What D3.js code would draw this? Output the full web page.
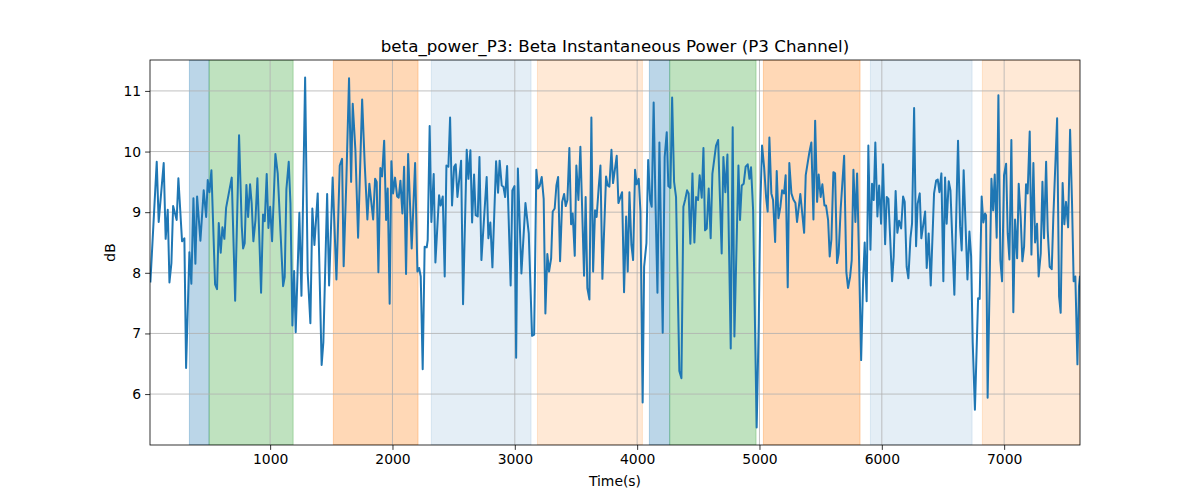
<!DOCTYPE html>
<html>
<head>
<meta charset="utf-8">
<script src="https://cdn.jsdelivr.net/npm/d3@7"></script>
<style>
  body { margin: 0; background: #fff; }
  svg { display: block; font-family: "DejaVu Sans", sans-serif; }
</style>
</head>
<body>
<svg id="chart" width="1200" height="500"></svg>
<script>
const titleText = "beta_power_P3: Beta Instantaneous Power (P3 Channel)";
const xLabel = "Time(s)";
const yLabel = "dB";
const xTicks = [1000, 2000, 3000, 4000, 5000, 6000, 7000];
const yTicks = [6, 7, 8, 9, 10, 11];
const xRange = [18, 7620];
const yRange = [5.16, 11.51];

const spanStart = [340, 501, 1517, 2318, 3185, 4100, 4266, 5032, 5907, 6822];
const spanEnd   = [501, 1188, 2209, 3133, 4043, 4266, 4972, 5822, 6738, 7620];
const spanKind  = ["blue", "green", "orange", "lightblue", "lightorange", "blue", "green", "orange", "lightblue", "lightorange"];

const time = [21,73,89,130,146,163,177,193,207,236,250,280,299,313,340,356,373,389,403,430,457,477,490,504,520,550,566,580,596,610,626,640,686,714,746,768,779,792,806,820,836,849,863,880,896,926,942,956,972,986,1000,1016,1043,1062,1106,1119,1133,1152,1166,1182,1196,1209,1239,1256,1286,1307,1329,1345,1362,1389,1421,1435,1466,1482,1511,1542,1569,1588,1601,1623,1645,1662,1675,1697,1719,1752,1773,1795,1811,1842,1858,1871,1885,1901,1915,1932,1948,1961,1977,1991,2005,2021,2038,2051,2065,2081,2095,2111,2128,2157,2185,2204,2218,2231,2247,2263,2280,2288,2304,2318,2337,2351,2381,2394,2411,2427,2441,2457,2471,2487,2504,2517,2531,2561,2577,2607,2621,2637,2651,2667,2680,2697,2711,2727,2770,2784,2800,2817,2847,2863,2876,2893,2907,2921,2937,2966,2980,2997,3011,3025,3054,3087,3114,3141,3158,3176,3190,3203,3220,3236,3250,3266,3280,3297,3310,3326,3340,3354,3370,3387,3403,3416,3430,3446,3460,3473,3490,3503,3520,3536,3566,3579,3593,3610,3626,3640,3656,3669,3686,3700,3716,3746,3759,3773,3790,3803,3833,3847,3877,3893,3910,3923,3937,3953,3967,3983,3996,4013,4027,4045,4057,4076,4090,4106,4119,4135,4149,4166,4182,4209,4225,4242,4255,4272,4286,4302,4318,4345,4362,4378,4392,4408,4421,4435,4452,4468,4482,4498,4511,4528,4542,4555,4569,4585,4601,4615,4645,4662,4691,4705,4721,4738,4765,4781,4795,4828,4841,4855,4871,4887,4904,4918,4931,4948,4977,4994,5007,5021,5038,5054,5067,5081,5097,5111,5128,5141,5155,5171,5185,5201,5214,5231,5244,5261,5277,5294,5307,5334,5365,5378,5408,5424,5441,5455,5471,5484,5500,5514,5531,5544,5561,5574,5588,5604,5618,5634,5647,5664,5692,5710,5724,5741,5754,5768,5784,5798,5814,5831,5847,5860,5876,5890,5907,5920,5934,5947,5964,5978,5994,6010,6027,6040,6054,6084,6097,6113,6127,6141,6158,6174,6187,6203,6217,6234,6247,6264,6280,6293,6310,6323,6340,6354,6367,6383,6400,6427,6444,6457,6471,6487,6503,6517,6530,6547,6561,6593,6623,6640,6653,6669,6700,6716,6730,6743,6761,6787,6800,6816,6830,6844,6852,6865,6896,6910,6923,6939,6953,6969,6983,6999,7016,7029,7043,7059,7075,7089,7106,7119,7135,7149,7163,7179,7192,7209,7223,7239,7253,7269,7282,7299,7313,7326,7343,7356,7372,7389,7402,7433,7449,7462,7478,7492,7506,7523,7539,7555,7568,7582,7599,7612,7620];

const power = [7.84,9.83,8.84,9.81,8.56,9.04,7.84,8.16,9.10,8.87,9.56,8.52,8.57,6.43,8.34,7.82,9.23,8.15,9.26,8.53,9.36,8.92,9.53,9.33,9.69,7.81,7.73,8.82,8.33,8.75,8.56,9.07,9.57,7.54,10.27,8.77,8.40,8.49,9.45,8.92,9.46,9.15,8.52,8.87,9.56,7.67,8.96,8.85,9.63,8.74,9.09,8.52,9.96,9.64,7.78,7.93,9.38,9.83,9.15,7.13,8.03,7.02,8.99,7.62,11.22,8.00,7.17,9.06,8.46,9.31,6.48,6.85,9.30,7.79,9.57,7.89,9.77,9.88,8.11,9.52,11.21,9.50,10.79,10.02,8.58,10.86,9.80,8.88,9.47,8.88,9.55,9.50,8.01,9.73,9.59,10.18,8.87,9.39,7.49,9.84,9.31,9.57,9.26,9.24,9.52,8.98,9.75,7.98,9.96,8.40,9.81,8.02,8.08,7.94,6.41,8.43,8.42,8.54,10.42,8.84,9.63,8.17,9.28,9.11,9.26,7.94,9.77,9.75,10.56,9.11,9.75,9.79,9.25,9.85,7.48,10.03,9.55,10.02,8.83,9.62,8.95,8.93,9.91,8.21,9.58,8.57,8.83,8.09,9.84,9.32,9.85,9.44,9.42,9.25,9.76,7.79,9.36,9.43,6.60,9.72,7.99,9.15,8.65,6.96,6.98,9.70,9.39,9.43,9.58,9.22,7.33,8.31,8.02,8.24,9.01,9.06,9.44,9.58,8.19,9.17,9.30,9.10,9.20,10.06,8.80,8.98,8.28,9.77,9.20,10.08,7.95,9.25,7.75,7.56,10.56,8.02,9.03,8.92,9.42,9.77,7.90,9.59,9.44,9.42,10.03,9.48,9.93,9.15,9.33,7.68,8.93,8.02,9.33,8.46,8.21,9.70,9.46,9.55,9.01,5.86,8.10,8.49,9.86,9.20,9.09,10.81,9.25,7.67,10.15,7.01,9.91,10.32,9.43,9.40,10.89,9.50,9.25,6.38,6.26,9.09,9.20,9.36,9.31,8.48,9.64,8.50,9.25,9.20,9.61,9.24,10.06,8.70,8.73,9.39,8.57,9.63,10.10,10.19,8.32,9.91,9.33,9.95,6.75,10.40,6.95,9.77,8.87,9.44,9.47,9.75,9.79,9.55,9.74,9.03,5.45,7.17,9.11,10.10,9.74,9.25,9.01,10.23,9.31,9.20,8.51,9.68,8.90,9.09,9.36,9.31,9.61,7.76,9.81,9.31,9.21,9.15,8.84,9.30,8.66,9.61,9.99,10.15,8.88,10.51,9.17,9.62,9.25,9.46,9.11,9.11,8.87,8.27,8.55,9.66,9.64,8.16,8.32,9.06,9.93,8.01,7.75,7.94,8.21,9.70,8.84,9.64,8.21,6.56,7.86,8.50,7.53,10.10,8.38,9.47,9.20,10.15,8.93,9.44,8.81,9.79,8.47,9.25,9.22,7.86,8.27,9.35,8.66,8.86,8.73,9.26,9.17,8.10,7.91,8.57,8.81,10.72,8.44,9.14,9.31,8.57,8.81,9.01,8.08,8.65,7.79,9.31,9.52,9.54,9.33,9.64,7.86,9.57,8.81,9.51,9.36,7.64,10.18,8.77,8.37,9.69,7.89,8.68,8.27,6.85,5.74,7.58,7.57,9.26,8.83,8.98,8.95,5.94,9.55,9.03,9.62,8.58,10.93,8.21,7.86,9.61,9.80,8.65,8.22,10.19,7.35,8.88,8.24,9.47,8.92,8.19,8.43,9.46,9.31,10.33,8.30,9.81,8.50,8.81,7.94,8.32,9.50,8.57,9.83,8.70,8.10,8.06,8.92,10.55,7.61,7.34,9.48,8.80,9.17,8.75,10.36,9.14,7.86,7.94,6.49,7.78,7.95];

const spanColor = {
  blue: "#1f77b4", green: "#2ca02c", orange: "#ff7f0e",
  lightblue: "#1f77b4", lightorange: "#ff7f0e"
};
const spanAlpha = { blue: 0.3, green: 0.3, orange: 0.3, lightblue: 0.12, lightorange: 0.17 };

const margin = { left: 150, top: 60, right: 120, bottom: 55 };
const W = 1200, H = 500;
const iw = W - margin.left - margin.right;   // 930
const ih = H - margin.top - margin.bottom;   // 385

const svg = d3.select("#chart");
const g = svg.append("g").attr("transform", `translate(${margin.left},${margin.top})`);

const x = d3.scaleLinear().domain(xRange).range([0, iw]);
const y = d3.scaleLinear().domain(yRange).range([ih, 0]);

svg.append("defs").append("clipPath").attr("id", "clip")
  .append("rect").attr("width", iw).attr("height", ih);

// spans
const spans = spanStart.map((s, i) => ({ s, e: spanEnd[i], k: spanKind[i] }));
g.append("g").attr("clip-path", "url(#clip)")
  .selectAll("rect").data(spans).join("rect")
  .attr("x", d => x(d.s)).attr("width", d => x(d.e) - x(d.s))
  .attr("y", 0).attr("height", ih)
  .attr("fill", d => spanColor[d.k]).attr("fill-opacity", d => spanAlpha[d.k])
  .attr("stroke", d => spanColor[d.k]).attr("stroke-opacity", d => spanAlpha[d.k])
  .attr("stroke-width", 1);

// grid
const grid = g.append("g");
grid.selectAll("line.gx").data(xTicks).join("line")
  .attr("x1", d => x(d)).attr("x2", d => x(d)).attr("y1", 0).attr("y2", ih)
  .attr("stroke", "#b0b0b0").attr("stroke-width", 0.8);
grid.selectAll("line.gy").data(yTicks).join("line")
  .attr("y1", d => y(d)).attr("y2", d => y(d)).attr("x1", 0).attr("x2", iw)
  .attr("stroke", "#b0b0b0").attr("stroke-width", 0.8);

// line
const pts = time.map((t, i) => [t, power[i]]);
g.append("path").datum(pts).attr("clip-path", "url(#clip)")
  .attr("fill", "none").attr("stroke", "#1f77b4").attr("stroke-width", 2)
  .attr("stroke-linejoin", "round").attr("stroke-linecap", "butt")
  .attr("d", d3.line().x(d => x(d[0])).y(d => y(d[1])));

// axes
const xAxis = g.append("g").attr("transform", `translate(0,${ih})`)
  .call(d3.axisBottom(x).tickValues(xTicks).tickSize(4.9).tickPadding(4).tickFormat(d3.format("d")));
const yAxis = g.append("g")
  .call(d3.axisLeft(y).tickValues(yTicks).tickSize(4.9).tickPadding(4).tickFormat(d3.format("d")));
[xAxis, yAxis].forEach(a => {
  a.select(".domain").remove();
  a.selectAll(".tick line").attr("stroke", "#000").attr("stroke-width", 0.8);
  a.selectAll(".tick text").attr("fill", "#000").style("font-size", "13.9px")
    .style("font-family", "DejaVu Sans, sans-serif");
});

// frame
g.append("rect").attr("width", iw).attr("height", ih)
  .attr("fill", "none").attr("stroke", "#000").attr("stroke-width", 0.8);

// labels
svg.append("text").attr("x", margin.left + iw / 2).attr("y", 52)
  .attr("text-anchor", "middle").style("font-size", "16.7px").attr("fill", "#000")
  .text(titleText);
svg.append("text").attr("x", margin.left + iw / 2).attr("y", 486)
  .attr("text-anchor", "middle").style("font-size", "13.9px").attr("fill", "#000")
  .text(xLabel);
svg.append("text").attr("transform", `translate(115,${margin.top + ih / 2}) rotate(-90)`)
  .attr("text-anchor", "middle").style("font-size", "13.9px").attr("fill", "#000")
  .text(yLabel);
</script>
</body>
</html>
